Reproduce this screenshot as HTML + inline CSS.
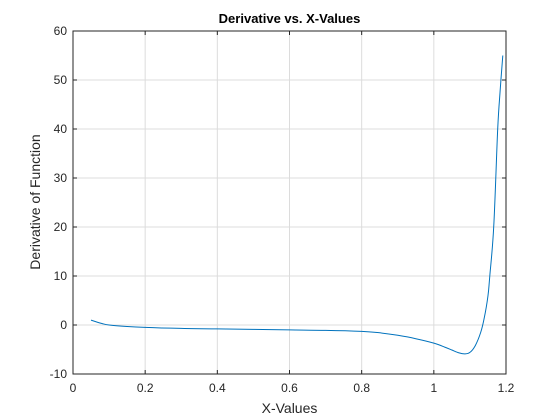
<!DOCTYPE html>
<html><head><meta charset="utf-8"><style>
body{margin:0;background:#fff;}
svg{display:block;font-family:"Liberation Sans",Arial,sans-serif;}
</style></head><body>
<svg id="chart" width="560" height="420">
<rect x="0" y="0" width="560" height="420" fill="#fff"/>
<rect x="73" y="31" width="433" height="343" fill="#fff"/>
<g id="grid"></g><g id="ticks"></g>
<path id="line" fill="none" stroke="#0072BD" stroke-width="1"/>
<rect x="73" y="31" width="433" height="343" fill="none" stroke="#262626" stroke-width="1"/>
<text x="289.5" y="23" text-anchor="middle" font-size="13" font-weight="bold" fill="#000">Derivative vs. X-Values</text>
<text x="289.5" y="413" text-anchor="middle" font-size="14" fill="#262626">X-Values</text>
<text transform="translate(40,202) rotate(-90)" text-anchor="middle" font-size="14" fill="#262626">Derivative of Function</text>
</svg>
<script>
const xs=[0.05,0.08,0.1,0.15,0.2,0.3,0.4,0.5,0.6,0.7,0.8,0.85,0.9,0.95,1.0,1.03,1.05,1.07,1.086,1.1,1.115,1.13,1.14,1.15,1.155,1.166,1.177,1.184,1.191];
const ys=[1,0.3,0,-0.3,-0.5,-0.7,-0.8,-0.9,-1,-1.1,-1.3,-1.6,-2.1,-2.8,-3.7,-4.5,-5.1,-5.7,-5.9,-5.6,-4.2,-1.5,1.5,6,10,20,40,48,55];
const xTicks=[0,0.2,0.4,0.6,0.8,1,1.2];
const yTicks=[-10,0,10,20,30,40,50,60];
const X=v=>73+(v-0)/1.2*433;
const Y=v=>374-(v+10)/70*343;
const NS='http://www.w3.org/2000/svg';
const grid=document.getElementById('grid'),ticks=document.getElementById('ticks');
function mk(tag,at,par){const e=document.createElementNS(NS,tag);for(const k in at)e.setAttribute(k,at[k]);par.appendChild(e);return e;}
xTicks.forEach(t=>{
 const l=mk('line',{x1:X(t),x2:X(t),y1:31,y2:374,stroke:'#dcdcdc','stroke-width':1},grid);
 
 
 mk('line',{x1:X(t),x2:X(t),y1:374,y2:370,stroke:'#262626'},ticks);
 mk('line',{x1:X(t),x2:X(t),y1:31,y2:35,stroke:'#262626'},ticks);
 const tx=mk('text',{x:X(t),y:392,'text-anchor':'middle','font-size':12,fill:'#262626'},ticks);
 tx.textContent=String(t);
 
 
});
yTicks.forEach(t=>{
 const l=mk('line',{x1:73,x2:506,y1:Y(t),y2:Y(t),stroke:'#dcdcdc','stroke-width':1},grid);
 
 
 mk('line',{x1:73,x2:77,y1:Y(t),y2:Y(t),stroke:'#262626'},ticks);
 mk('line',{x1:506,x2:502,y1:Y(t),y2:Y(t),stroke:'#262626'},ticks);
 const tx=mk('text',{x:67,y:Y(t)+4,'text-anchor':'end','font-size':12,fill:'#262626'},ticks);
 tx.textContent=String(t);
 
 
});
const P=xs.map((x,i)=>[X(x),Y(ys[i])]);
let d='M'+P[0][0].toFixed(1)+','+P[0][1].toFixed(1);
for(let i=0;i<P.length-1;i++){
 const p0=P[Math.max(0,i-1)],p1=P[i],p2=P[i+1],p3=P[Math.min(P.length-1,i+2)];
 const c1=[p1[0]+(p2[0]-p0[0])/6,p1[1]+(p2[1]-p0[1])/6];
 const c2=[p2[0]-(p3[0]-p1[0])/6,p2[1]-(p3[1]-p1[1])/6];
 d+='C'+c1.map(v=>v.toFixed(1)).join(',')+' '+c2.map(v=>v.toFixed(1)).join(',')+' '+p2.map(v=>v.toFixed(1)).join(',');
}
document.getElementById('line').setAttribute('d',d);
</script>
</body></html>
